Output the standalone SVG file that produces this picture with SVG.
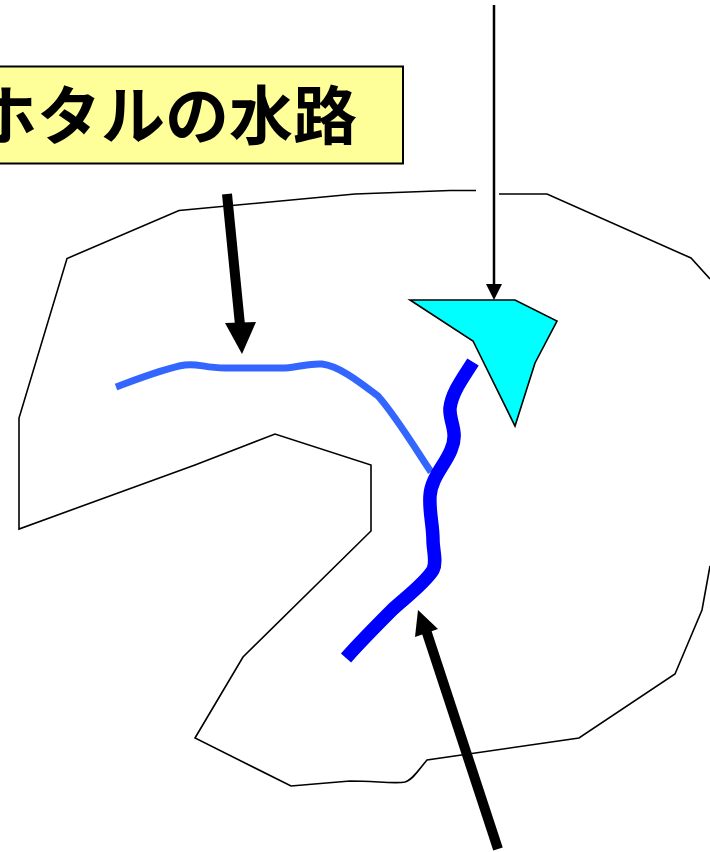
<svg xmlns="http://www.w3.org/2000/svg" width="710" height="852" viewBox="0 0 710 852">
<style>
.o{fill:none;stroke:#000;stroke-width:1.6;stroke-linejoin:miter}
.t{font-family:"Noto Sans CJK JP","Liberation Sans",sans-serif;font-weight:700;font-size:64px;fill:#000}
</style>
<rect width="710" height="852" fill="#fff"/>
<g id="outline">
<path class="o" d="M476 190.500L450 190.500L355 194L179 210.500L67 258.500L19 418L19 529L195 465L275 434L371 465L371 531L243 657L195 738L291 786L350 781C375 781 395 784 405 782C413 780 420 768 427 760L579 738L675 674L702 610L710 566"/>
<path class="o" d="M499 194L547 194L691 258L710 279"/>
</g>
<g id="label">
<rect x="-10" y="66.500" width="413" height="97" fill="#ffff99" stroke="#000" stroke-width="2"/>
<text class="t" x="-27" y="139">ホタルの水路</text>
</g>
<g id="pond">
<path d="M410 300L515 300L557 321L535 363L515 426L473 341Z" fill="#00ffff" stroke="#000" stroke-width="1.600" stroke-linejoin="miter"/>
</g>
<g id="connectors">
<path d="M116 387C135 380 165 368 185 365C197 363 205 368 225 368L285 368C300 367 310 363 322 364C340 366 362 384 378 396C395 415 415 448 431 472" fill="none" stroke="#3366ff" stroke-width="7"/>
<path d="M473 362C463 378 452 392 450 408C449 422 459 432 451 450C445 465 431 478 430 496C429 512 433 525 433 540C433 550 437 562 433 570C425 583 405 598 393 609C378 624 360 642 346 658" fill="none" stroke="#0000ff" stroke-width="13.500"/>
<g id="arrow-top"><path d="M494 5L494 286" stroke="#000" stroke-width="2.500" fill="none"/><path d="M486 284L502 284L494 300Z" fill="#000"/></g>
<g id="arrow-left"><path d="M227 194L240 325" stroke="#000" stroke-width="10" fill="none"/><path d="M225 323L256 322L242 354Z" fill="#000"/></g>
<g id="arrow-bottom"><path d="M498 849L426 630" stroke="#000" stroke-width="10" fill="none"/><path d="M415 637L438 629L418 610Z" fill="#000"/></g>
</g>
</svg>
